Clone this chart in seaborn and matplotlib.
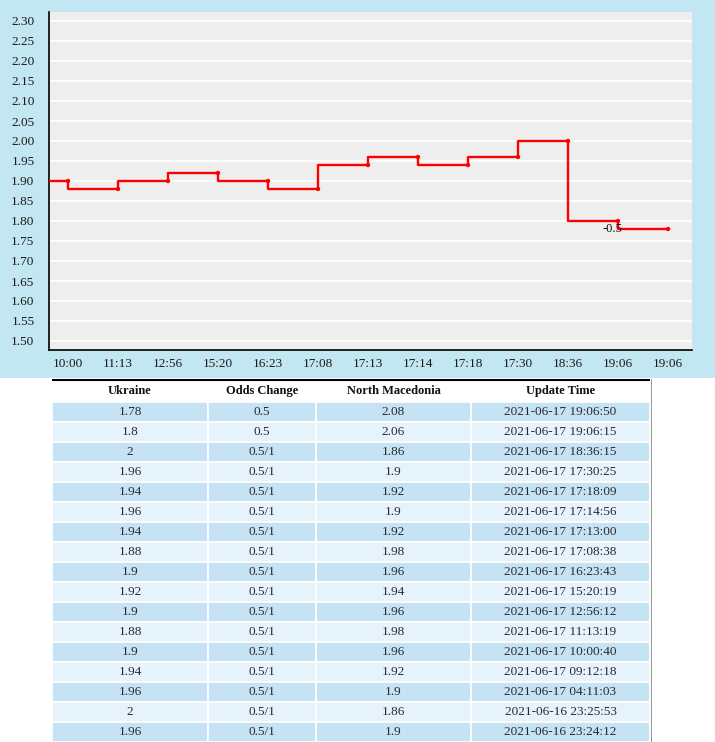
import matplotlib
matplotlib.use("Agg")
import matplotlib.pyplot as plt
import matplotlib.patches as mpatches
import numpy as np
import pandas as pd
import seaborn as sns

# ---------------- data ----------------
chart_labels = ["10:00", "11:13", "12:56", "15:20", "16:23", "17:08", "17:13",
                "17:14", "17:18", "17:30", "18:36", "19:06", "19:06"]
chart_values = [1.90, 1.88, 1.90, 1.92, 1.90, 1.88, 1.94,
                1.96, 1.94, 1.96, 2.00, 1.80, 1.78]
annot_index = [11]
annot_text = ["-0.5"]
y_ticks = [1.50, 1.55, 1.60, 1.65, 1.70, 1.75, 1.80, 1.85, 1.90,
           1.95, 2.00, 2.05, 2.10, 2.15, 2.20, 2.25, 2.30]

table_header = ["Ukraine", "Odds Change", "North Macedonia", "Update Time"]
ukraine = ["1.78", "1.8", "2", "1.96", "1.94", "1.96", "1.94", "1.88", "1.9",
           "1.92", "1.9", "1.88", "1.9", "1.94", "1.96", "2", "1.96"]
odds_change = ["0.5", "0.5"] + ["0.5/1"] * 15
north_macedonia = ["2.08", "2.06", "1.86", "1.9", "1.92", "1.9", "1.92", "1.98",
                   "1.96", "1.94", "1.96", "1.98", "1.96", "1.92", "1.9", "1.86", "1.9"]
update_time = ["2021-06-17 19:06:50", "2021-06-17 19:06:15", "2021-06-17 18:36:15",
               "2021-06-17 17:30:25", "2021-06-17 17:18:09", "2021-06-17 17:14:56",
               "2021-06-17 17:13:00", "2021-06-17 17:08:38", "2021-06-17 16:23:43",
               "2021-06-17 15:20:19", "2021-06-17 12:56:12", "2021-06-17 11:13:19",
               "2021-06-17 10:00:40", "2021-06-17 09:12:18", "2021-06-17 04:11:03",
               "2021-06-16 23:25:53", "2021-06-16 23:24:12"]

# ---------------- style ----------------
sns.set_style("white", {"axes.facecolor": "#eeeeee"})
plt.rcParams["font.family"] = ["Liberation Serif", "DejaVu Serif"]

W, H = 715, 742
fig = plt.figure(figsize=(W / 100, H / 100), dpi=100)
fig.patch.set_facecolor("white")

def fig_ax(x0, y0, x1, y1):
    return fig.add_axes([x0 / W, 1 - y1 / H, (x1 - x0) / W, (y1 - y0) / H])

# light blue chart background (as a background axes)
bg = fig_ax(0, 0, W, 378)
bg.set_zorder(-5)
bg.set_facecolor("#c3e7f2")
bg.set_xticks([])
bg.set_yticks([])
for s in bg.spines.values():
    s.set_visible(False)

ax = fig_ax(49, 12, 692, 350)
ax.set_facecolor("#eeeeee")

x_pos = np.arange(len(chart_values))
x_left, x_right = -0.38, len(chart_values) - 1 + 0.48
df = pd.DataFrame({"x": x_pos, "y": chart_values})
line_df = pd.DataFrame({"x": np.concatenate([[x_left], x_pos]),
                        "y": np.concatenate([[chart_values[0]], chart_values])})

for yt in y_ticks:
    ax.axhline(yt, color="white", lw=1.2, zorder=1)

sns.lineplot(data=line_df, x="x", y="y", ax=ax, color="#ff0000", lw=1.7,
             drawstyle="steps-pre", zorder=3, estimator=None, sort=False)
sns.scatterplot(data=df, x="x", y="y", ax=ax, color="#ff0000", s=10,
                edgecolor="none", zorder=4)

for i, t in zip(annot_index, annot_text):
    ax.text(x_pos[i] - 0.12, chart_values[i] - 0.006, t, ha="center", va="top",
            fontsize=9, color="#111111", zorder=5)

ax.set_xlim(x_left, x_right)
ax.set_ylim(1.4775, 2.3225)
ax.set_yticks(y_ticks)
ax.set_yticklabels([f"{v:.2f}" for v in y_ticks])
ax.set_xticks(x_pos)
ax.set_xticklabels(chart_labels)
ax.set_xlabel("")
ax.set_ylabel("")
for s in ["top", "right"]:
    ax.spines[s].set_visible(False)
ax.spines["left"].set_color("black")
ax.spines["bottom"].set_color("black")
ax.spines["left"].set_linewidth(1.2)
ax.spines["bottom"].set_linewidth(1.2)
ax.tick_params(axis="y", direction="out", length=3.5, width=1, color="black",
               labelsize=9.5, labelcolor="#1a1a1a", pad=7)
ax.tick_params(axis="x", direction="inout", length=6, width=1, color="black",
               labelsize=9.5, labelcolor="#1a1a1a", pad=3)
ax.grid(False)

# ---------------- table ----------------
tax = fig_ax(52, 379, 652, 742)
tax.set_xlim(0, 600)
tax.set_ylim(363, 0)
tax.axis("off")

col_edges = [0, 156, 264, 419, 598]
header_h = 23
row_h = 20
columns = [ukraine, odds_change, north_macedonia, update_time]

for c, name in enumerate(table_header):
    cx = (col_edges[c] + col_edges[c + 1]) / 2
    tax.text(cx, header_h / 2 + 0.5, name, ha="center", va="center", fontsize=9,
             fontweight="bold", color="#111111")

for r in range(len(ukraine)):
    y0 = header_h + r * row_h
    fc = "#c6e3f5" if r % 2 == 0 else "#e6f3fb"
    for c in range(4):
        tax.add_patch(mpatches.Rectangle((col_edges[c], y0), col_edges[c + 1] - col_edges[c],
                                         row_h, facecolor=fc, edgecolor="white", lw=1.2))
        cx = (col_edges[c] + col_edges[c + 1]) / 2
        tax.text(cx, y0 + row_h / 2, columns[c][r], ha="center", va="center",
                 fontsize=9.5, color="#2a2a2a")

tax.plot([0, 598], [0.6, 0.6], color="black", lw=1.5, solid_capstyle="butt")
tax.plot([599.5, 599.5], [0, 363], color="#9a9a9a", lw=1.5)

fig.savefig("out.png", dpi=100)
